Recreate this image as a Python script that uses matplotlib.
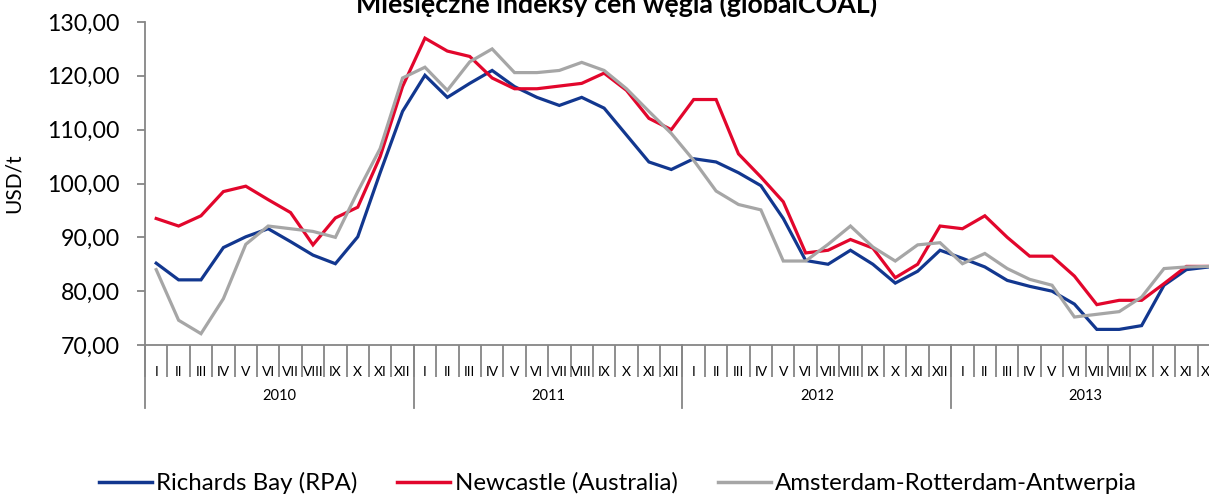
import numpy as np
import matplotlib
matplotlib.use("Agg")
import matplotlib.pyplot as plt
from matplotlib.lines import Line2D

# ---- data ----
years = ["2010", "2011", "2012", "2013"]
months = ["I", "II", "III", "IV", "V", "VI", "VII", "VIII", "IX", "X", "XI", "XII"]

richards_bay = [85.2, 82.1, 82.1, 88.1, 90.1, 91.6, 89.2, 86.7, 85.1, 90.1, 102.0, 113.4,
                120.1, 116.0, 118.6, 121.0, 118.0, 116.0, 114.5, 116.0, 114.0, 109.0, 104.0, 102.6,
                104.6, 104.0, 102.0, 99.6, 93.5, 85.7, 85.0, 87.6, 85.0, 81.5, 83.7, 87.6,
                86.1, 84.5, 82.0, 80.9, 80.0, 77.6, 72.9, 72.9, 73.6, 81.1, 84.0, 84.5]

newcastle = [93.5, 92.1, 94.0, 98.5, 99.5, 97.0, 94.6, 88.6, 93.6, 95.6, 105.0, 118.0,
             127.0, 124.6, 123.6, 119.6, 117.6, 117.6, 118.1, 118.6, 120.5, 117.3, 112.1, 110.0,
             115.6, 115.6, 105.5, 101.2, 96.6, 87.1, 87.6, 89.6, 88.0, 82.5, 85.0, 92.1,
             91.6, 94.0, 90.0, 86.5, 86.5, 82.8, 77.5, 78.3, 78.3, 81.4, 84.6, 84.6]

ara = [84.0, 74.6, 72.1, 78.6, 88.7, 92.1, 91.6, 91.1, 90.0, 98.5, 106.5, 119.6,
       121.6, 117.3, 122.6, 125.0, 120.6, 120.6, 121.0, 122.5, 121.0, 117.6, 113.4, 109.3,
       104.3, 98.6, 96.1, 95.1, 85.6, 85.6, 88.7, 92.1, 88.2, 85.6, 88.6, 89.0,
       85.1, 87.0, 84.2, 82.2, 81.1, 75.2, 75.7, 76.2, 78.9, 84.2, 84.5, 84.6]

series_names = ["Richards Bay (RPA)", "Newcastle (Australia)", "Amsterdam-Rotterdam-Antwerpia"]
colors = ["#12378F", "#E2062C", "#A6A6A6"]

title = "Miesięczne indeksy cen węgla (globalCOAL)"
ylabel = "USD/t"

# ---- figure ----
W, H = 1209, 496
fig = plt.figure(figsize=(W / 100, H / 100), dpi=100)
plt.rcParams['font.family'] = ['Lato', 'DejaVu Sans']

n = len(months) * len(years)
left_px, right_px, top_px, bot_px = 145, 1220, 22, 345
ax = fig.add_axes([left_px / W, 1 - bot_px / H, (right_px - left_px) / W, (bot_px - top_px) / H])

x = np.arange(n)
for vals, c, name in zip([richards_bay, newcastle, ara], colors, series_names):
    ax.plot(x, vals, color=c, lw=2.3, solid_joinstyle='miter', label=name)

ax.set_xlim(-0.5, n - 0.5)
ax.set_ylim(70, 130)
ax.set_yticks(np.arange(70, 131, 10))
ax.set_yticklabels([f"{v:.2f}".replace(".", ",") for v in np.arange(70, 131, 10)], fontsize=16.7)
ax.set_ylabel(ylabel, fontsize=15)
ax.yaxis.set_label_coords(-(left_px - 24) / (right_px - left_px), 0.5)

axis_col = "#868686"
for s in ["top", "right"]:
    ax.spines[s].set_visible(False)
for s in ["left", "bottom"]:
    ax.spines[s].set_color(axis_col)
    ax.spines[s].set_linewidth(1.3)
ax.tick_params(axis='y', length=6, width=1.3, color=axis_col, pad=12)

# category separators (major ticks) and month labels (minor)
ax.set_xticks(np.arange(-0.5, n, 1))
ax.set_xticklabels([])
ax.tick_params(axis='x', which='major', length=23, width=1.3, color=axis_col)
ax.set_xticks(x, minor=True)
ax.set_xticklabels(months * len(years), minor=True, fontsize=10)
ax.tick_params(axis='x', which='minor', length=0, pad=15)

# year separators and labels
trans = ax.get_xaxis_transform()
axh = bot_px - top_px
for k, yr in enumerate(years):
    b = k * 12 - 0.5
    ax.plot([b, b], [0, -63 / axh], transform=trans, color=axis_col, lw=1.3, clip_on=False)
    ax.text(k * 12 + 5.5, -51 / axh, yr, transform=trans, ha='center', va='center', fontsize=10.5)

# title (partially cut at top as in the reference)
fig.text(617 / W, 1 - 13 / H, title, ha='center', va='baseline', fontsize=19.3, fontweight='bold')

# legend
handles = [Line2D([0], [0], color=c, lw=2.5) for c in colors]
fig.legend(handles, series_names, loc='center', bbox_to_anchor=(618 / W, 1 - 483 / H), ncol=3,
           frameon=False, fontsize=17.3, handlelength=2.2, handletextpad=0.2, columnspacing=1.65)

fig.savefig("out.png", dpi=100)
